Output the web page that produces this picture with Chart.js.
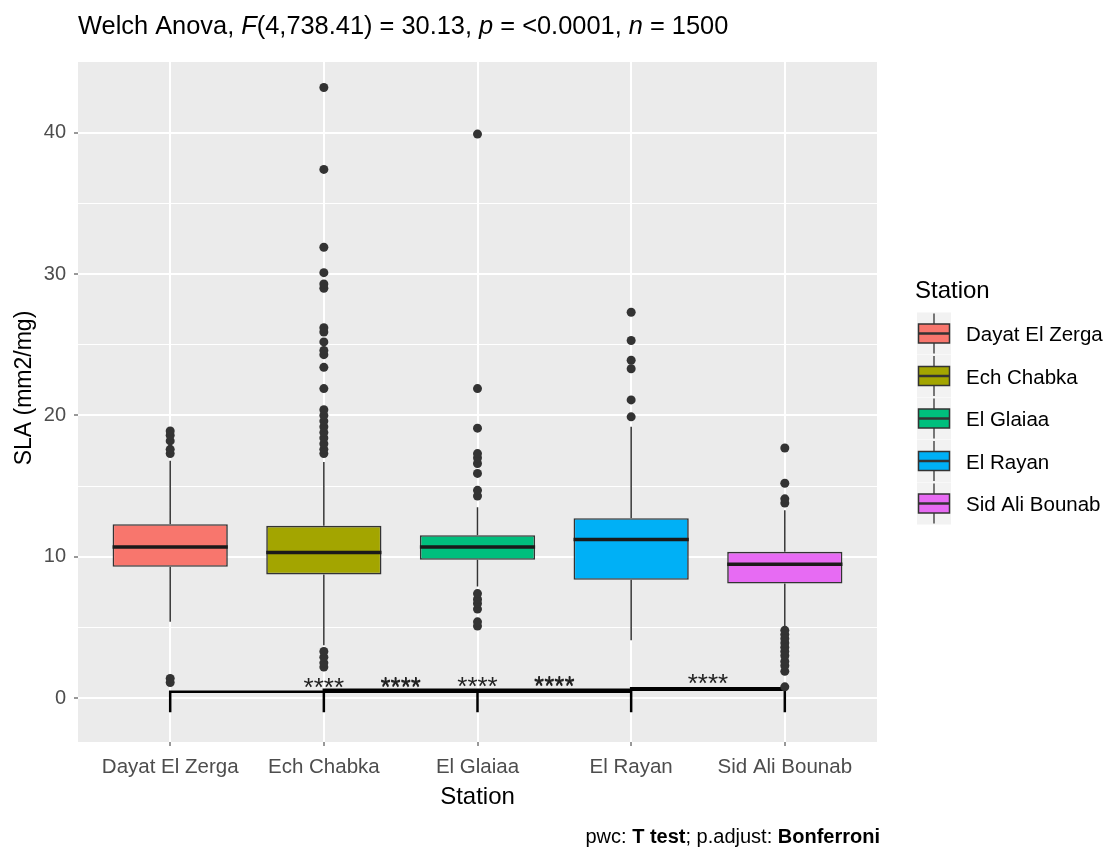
<!DOCTYPE html>
<html>
<head>
<meta charset="utf-8">
<title>SLA by Station</title>
<script src="https://cdn.jsdelivr.net/npm/chart.js@4.4.1/dist/chart.umd.min.js"></script>
<style>
  html, body { margin: 0; padding: 0; background: #fff; }
  #wrap { width: 1107px; height: 850px; }
</style>
</head>
<body>
<div id="wrap"><canvas id="slaChart" width="1107" height="850"></canvas></div>
<script>
// Box summaries (SLA, mm2/mg)
const stations = ['Dayat El Zerga', 'Ech Chabka', 'El Glaiaa', 'El Rayan', 'Sid Ali Bounab'];
const fills = ['#F8766D', '#A3A500', '#00BF7D', '#00B0F6', '#E76BF3'];
const lowWhisker = [5.4, 3.75, 7.9, 4.1, 5.05];
const q1 = [9.29, 8.75, 9.79, 8.37, 8.11];
const medians = [10.69, 10.31, 10.69, 11.23, 9.48];
const q3 = [12.31, 12.19, 11.53, 12.73, 10.35];
const highWhisker = [16.8, 16.7, 13.5, 19.2, 13.3];

const outDayat = [1.1, 1.4, 17.3, 17.6, 18.2, 18.6, 18.9];
const outEch = [2.2, 2.5, 2.9, 3.3, 17.3, 17.6, 18.0, 18.4, 18.8, 19.2, 19.6, 20.0, 20.4, 21.9,
  23.4, 24.3, 24.6, 25.2, 25.9, 26.2, 29.0, 29.3, 30.1, 31.9, 37.4, 43.2];
const outGlaiaa = [5.1, 5.4, 6.3, 6.7, 7.0, 7.4, 14.3, 14.7, 15.9, 16.6, 17.0, 17.3, 19.1, 21.9, 39.9];
const outRayan = [19.9, 21.1, 23.3, 23.9, 25.3, 27.3];
const outSid = [0.8, 1.9, 2.3, 2.6, 3.0, 3.3, 3.6, 3.9, 4.2, 4.5, 4.8, 13.8, 14.1, 15.2, 17.7];
const outliers = [outDayat, outEch, outGlaiaa, outRayan, outSid];

const yTicks = [0, 10, 20, 30, 40];
const yMinor = [5, 15, 25, 35];

// pairwise comparisons: [from, to, bracket height]
const bracketFrom = [0, 0, 1, 1, 2, 1, 3];
const bracketTo = [2, 3, 2, 3, 3, 4, 4];
const bracketY = [0.45, 0.45, 0.5, 0.5, 0.5, 0.6, 0.7];
const bracketLabel = '****';
const tipBottom = -1.0;

const BOX_W = 0.75;
const FONT = "'Liberation Sans', Arial, sans-serif";

function boxData() {
  return stations.map((s, i) => ({ x: i, y: [q1[i], q3[i]] }));
}

function whiskerData() {
  const pts = [];
  stations.forEach((s, i) => {
    pts.push({ x: i, y: lowWhisker[i] }, { x: i, y: q1[i] }, { x: i, y: null });
    pts.push({ x: i, y: q3[i] }, { x: i, y: highWhisker[i] }, { x: i, y: null });
  });
  return pts;
}

function medianData() {
  const pts = [];
  stations.forEach((s, i) => {
    pts.push({ x: i - BOX_W / 2, y: medians[i] }, { x: i + BOX_W / 2, y: medians[i] }, { x: i, y: null });
  });
  return pts;
}

function outlierData() {
  const pts = [];
  outliers.forEach((arr, i) => arr.forEach(v => pts.push({ x: i, y: v })));
  return pts;
}

function bracketData() {
  const pts = [];
  bracketFrom.forEach((f, k) => {
    const t = bracketTo[k], y = bracketY[k];
    pts.push({ x: f, y: tipBottom }, { x: f, y: y }, { x: t, y: y }, { x: t, y: tipBottom }, { x: t, y: null });
  });
  return pts;
}

const panelBg = {
  id: 'panelBg',
  beforeDraw(chart) {
    const { ctx, chartArea: a } = chart;
    ctx.save();
    ctx.fillStyle = '#EBEBEB';
    ctx.fillRect(a.left, a.top, a.right - a.left, a.bottom - a.top);
    ctx.restore();
  }
};

const annotations = {
  id: 'annotations',
  afterDatasetsDraw(chart) {
    const { ctx } = chart;
    const xs = chart.scales.x, ys = chart.scales.y;
    ctx.save();
    ctx.fillStyle = '#222';
    ctx.font = '26px ' + FONT;
    ctx.textAlign = 'center';
    ctx.textBaseline = 'alphabetic';
    bracketFrom.forEach((f, k) => {
      const mid = (f + bracketTo[k]) / 2;
      ctx.fillText(bracketLabel, xs.getPixelForValue(mid), ys.getPixelForValue(bracketY[k]) + 4);
    });
    ctx.restore();
  },
  afterDraw(chart) {
    const { ctx } = chart;
    ctx.save();
    // title with italic statistics symbols
    const parts = [
      ['Welch Anova, ', ''], ['F', 'italic '], ['(4,738.41) = 30.13, ', ''],
      ['p', 'italic '], [' = <0.0001, ', ''], ['n', 'italic '], [' = 1500', '']
    ];
    let x = 78;
    ctx.fillStyle = '#000';
    ctx.textBaseline = 'alphabetic';
    ctx.textAlign = 'left';
    parts.forEach(([txt, style]) => {
      ctx.font = style + '25.4px ' + FONT;
      ctx.fillText(txt, x, 34);
      x += ctx.measureText(txt).width;
    });

    // y axis title
    ctx.save();
    ctx.translate(25, 388);
    ctx.rotate(-Math.PI / 2);
    ctx.textAlign = 'center';
    ctx.textBaseline = 'middle';
    ctx.font = '23px ' + FONT;
    ctx.fillText('SLA (mm2/mg)', 0, 0);
    ctx.restore();

    // caption
    const cap = [['pwc: ', ''], ['T test', 'bold '], ['; p.adjust: ', ''], ['Bonferroni', 'bold ']];
    let w = 0;
    cap.forEach(([txt, style]) => { ctx.font = style + '20px ' + FONT; w += ctx.measureText(txt).width; });
    x = 880 - w;
    cap.forEach(([txt, style]) => {
      ctx.font = style + '20px ' + FONT;
      ctx.fillText(txt, x, 843);
      x += ctx.measureText(txt).width;
    });

    // legend
    ctx.font = '24px ' + FONT;
    ctx.fillText('Station', 915, 298);
    stations.forEach((s, i) => {
      const cy = 333.5 + i * 42.5;
      ctx.fillStyle = '#F2F2F2';
      ctx.fillRect(917, cy - 21, 34, 42);
      ctx.strokeStyle = '#333';
      ctx.lineWidth = 1.3;
      ctx.beginPath();
      ctx.moveTo(934, cy - 20); ctx.lineTo(934, cy + 20);
      ctx.stroke();
      ctx.fillStyle = fills[i];
      ctx.fillRect(918.5, cy - 9.5, 31, 19);
      ctx.lineWidth = 1.5;
      ctx.strokeRect(918.5, cy - 9.5, 31, 19);
      ctx.lineWidth = 2.5;
      ctx.beginPath();
      ctx.moveTo(918.5, cy); ctx.lineTo(949.5, cy);
      ctx.stroke();
      ctx.fillStyle = '#000';
      ctx.font = '20.5px ' + FONT;
      ctx.fillText(s, 966, cy + 7.5);
    });
    ctx.restore();
  }
};

const ctx = document.getElementById('slaChart').getContext('2d');
const chart = new Chart(ctx, {
  type: 'bar',
  data: {
    datasets: [
      {
        type: 'scatter',
        label: 'outliers',
        data: outlierData(),
        pointRadius: 4.5,
        pointBackgroundColor: '#333',
        pointBorderWidth: 0,
        order: 0
      },
      {
        type: 'line',
        label: 'brackets',
        data: bracketData(),
        borderColor: '#000',
        borderWidth: 2.5,
        pointRadius: 0,
        spanGaps: false,
        order: 1
      },
      {
        type: 'line',
        label: 'medians',
        data: medianData(),
        borderColor: '#1A1A1A',
        borderWidth: 3.5,
        pointRadius: 0,
        spanGaps: false,
        order: 2
      },
      {
        type: 'bar',
        label: 'boxes',
        data: boxData(),
        backgroundColor: fills,
        borderColor: '#333',
        borderWidth: 1.6,
        borderSkipped: false,
        barPercentage: BOX_W,
        categoryPercentage: 1,
        order: 3
      },
      {
        type: 'line',
        label: 'whiskers',
        data: whiskerData(),
        borderColor: '#333',
        borderWidth: 1.5,
        pointRadius: 0,
        spanGaps: false,
        order: 4
      }
    ]
  },
  options: {
    responsive: false,
    animation: false,
    layout: { padding: { left: 0, right: 230, top: 62, bottom: 0 } },
    plugins: {
      legend: { display: false },
      tooltip: { enabled: false }
    },
    scales: {
      x: {
        type: 'linear',
        min: -0.6,
        max: 4.6,
        offset: false,
        afterFit: s => { s.height = 108; },
        afterBuildTicks: s => { s.ticks = stations.map((n, i) => ({ value: i })); },
        border: { display: false },
        grid: { offset: false, color: '#FFFFFF', lineWidth: 2, tickLength: 4, tickColor: '#333', tickWidth: 1 },
        ticks: {
          callback: v => stations[v],
          color: '#4D4D4D',
          font: { family: FONT, size: 20.5 },
          padding: 9,
          maxRotation: 0,
          autoSkip: false
        },
        title: {
          display: true,
          text: 'Station',
          color: '#000',
          font: { family: FONT, size: 24 },
          padding: { top: 0, bottom: 38 }
        }
      },
      y: {
        type: 'linear',
        min: -3.1,
        max: 45.0,
        afterFit: s => { s.width = 78; },
        afterBuildTicks: s => {
          s.ticks = yTicks.concat(yMinor).sort((a, b) => a - b).map(v => ({ value: v }));
        },
        border: { display: false },
        grid: {
          color: '#FFFFFF',
          lineWidth: c => (c.tick && yTicks.includes(c.tick.value) ? 2 : 1),
          tickLength: 4,
          tickColor: c => (c.tick && yTicks.includes(c.tick.value) ? '#333' : 'rgba(0,0,0,0)'),
          tickWidth: 1
        },
        ticks: {
          callback: v => (yTicks.includes(v) ? String(v) : ''),
          color: '#4D4D4D',
          font: { family: FONT, size: 20 },
          padding: 8
        }
      }
    }
  },
  plugins: [panelBg, annotations]
});
</script>
</body>
</html>
